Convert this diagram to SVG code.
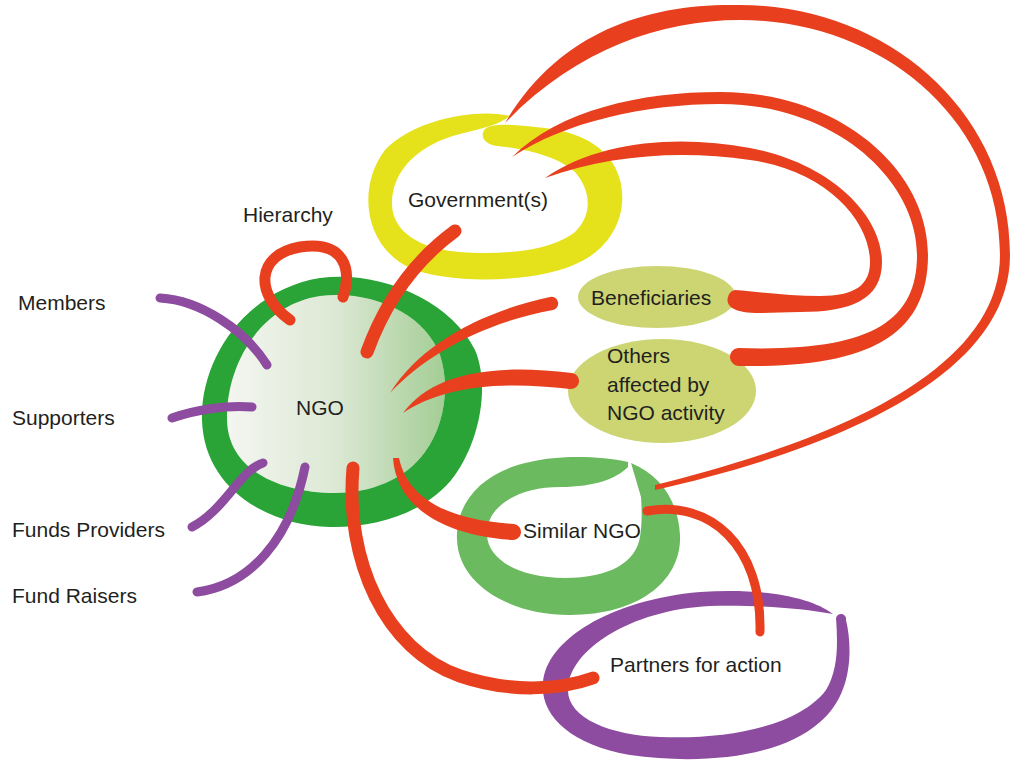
<svg xmlns="http://www.w3.org/2000/svg" width="1017" height="765" viewBox="0 0 1017 765">
<defs>
<linearGradient id="ngoFill" x1="227" y1="0" x2="445" y2="0" gradientUnits="userSpaceOnUse">
<stop offset="0" stop-color="#f4f6f0"/>
<stop offset="0.5" stop-color="#dce8d4"/>
<stop offset="1" stop-color="#a4cd95"/>
</linearGradient>
<style>
.lbl{font-family:"Liberation Sans",Arial,sans-serif;font-size:21px;fill:#231f20}
.red{fill:#e8401f}
.reds{fill:none;stroke:#e8401f;stroke-linecap:round}
.pur{fill:none;stroke:#8d4c9f;stroke-width:9;stroke-linecap:round}
</style>
</defs>
<rect width="1017" height="765" fill="#ffffff"/>

<g id="ngo">
<path d="M227,420 C226,365 260,305 320,296 C375,290 425,315 440,355 C450,385 445,425 425,452 C405,480 370,493 335,493 C280,493 228,470 227,420 Z" fill="url(#ngoFill)"/>
<path fill-rule="evenodd" fill="#2aa337" d="M202,420 C200,360 245,290 320,278 C380,270 450,300 475,350 C490,385 480,440 455,475 C430,510 380,528 330,527 C270,526 204,490 202,420 Z M227,420 C226,365 260,305 320,296 C375,290 425,315 440,355 C450,385 445,425 425,452 C405,480 370,493 335,493 C280,493 228,470 227,420 Z"/>
<text class="lbl" x="296" y="415">NGO</text>
</g>

<g id="government">
<path fill="#e5e21c" d="M510,116 C480,108 415,118 385,150 C358,185 362,245 410,268 C450,285 540,283 580,262 C615,245 628,210 620,180 C612,150 585,133 545,128 C520,125 492,122 485,129 C479,136 485,145 497,146 C530,149 560,158 575,172 C592,192 592,215 575,232 C550,252 500,255 460,252 C420,249 393,232 392,205 C391,170 420,144 460,134 C485,128 500,124 510,116 Z"/>
<text class="lbl" x="408" y="207">Government(s)</text>
</g>

<g id="beneficiaries">
<ellipse cx="657" cy="297" rx="79" ry="31" fill="#ccd572"/>
<text class="lbl" x="591" y="305">Beneficiaries</text>
</g>

<g id="others">
<ellipse cx="662" cy="391" rx="94" ry="52" fill="#ccd572"/>
<text class="lbl" x="607" y="363">Others</text>
<text class="lbl" x="607" y="392">affected by</text>
<text class="lbl" x="607" y="420">NGO activity</text>
</g>

<g id="similar-ngo">
<path fill="#6cba5f" d="M628,462 C600,456 560,455 530,462 C480,472 455,505 457,540 C459,585 510,615 570,615 C640,615 682,580 680,535 C678,500 660,475 631,463 L641,497 C642,512 642,525 640,537 C636,562 610,578 565,578 C520,578 488,560 487,535 C486,505 520,487 560,487 C596,487 617,478 628,467 Z"/>
<text class="lbl" x="523" y="538">Similar NGO</text>
</g>

<g id="partners">
<path fill="#8d4c9f" d="M836,618 A5,5 0 0 1 846,620 C853,650 852,695 820,722 C780,758 700,765 630,755 C570,745 540,715 543,683 C546,640 610,600 700,592 C760,588 810,596 833,614 C800,608 760,605 710,606 C630,610 570,650 568,688 C566,718 610,735 660,737 C730,740 800,725 826,690 C838,670 838,645 836,618 Z"/>
<text class="lbl" x="610" y="672">Partners for action</text>
</g>

<g id="hierarchy"><text class="lbl" x="243" y="222">Hierarchy</text></g>
<g id="members"><text class="lbl" x="18" y="310">Members</text></g>
<g id="supporters"><text class="lbl" x="12" y="425">Supporters</text></g>
<g id="funds-providers"><text class="lbl" x="12" y="537">Funds Providers</text></g>
<g id="fund-raisers"><text class="lbl" x="12" y="603">Fund Raisers</text></g>

<g id="connectors">
<path class="pur" d="M160,298 C200,300 245,330 267,365"/>
<path class="pur" d="M172,418 C195,410 225,405 252,407"/>
<path class="pur" d="M192,527 C225,510 240,470 263,463"/>
<path class="pur" d="M197,592 C250,585 290,540 305,467"/>
<path class="reds" stroke-width="11" d="M290,320 C255,295 255,255 300,247 C345,240 352,270 343,297"/>
<path class="reds" stroke-width="13" d="M367,352 Q395,275 455,231"/>
<path class="red" d="M390,393 C420,345 480,312 550,297 A6.5,6.5 0 0 1 553,310 C485,322 425,355 390,393 Z"/>
<path class="red" d="M403,413 C432,374 490,363 572,373 A8,8 0 0 1 570,389 C495,380 440,388 403,413 Z"/>
<path class="red" d="M393,458 C396,505 440,535 512,540 A8,8 0 0 0 514,524 C450,520 408,500 399,458 Z"/>
<path class="reds" stroke-width="13" d="M353,468 C345,560 385,650 460,676 C510,693 560,690 593,678"/>
<path class="reds" stroke-width="9" d="M647,511 C710,500 762,545 760,632"/>
<path class="red" d="M505,123 C560,30 650,3 740,5 C885,5 1010,110 1010,255 C1010,385 810,455 655,490 L655,485 C805,448 1000,380 1000,255 C1000,118 880,20 740,20 C660,20 575,50 505,123 Z"/>
<path class="red" d="M512,157 C560,110 640,92 720,92 C840,92 928,170 928,255 C928,335 870,368 740,366 A9,9 0 0 1 738,348 C865,352 917,325 917,255 C917,180 835,104 720,104 C645,104 565,122 512,157 Z"/>
<path class="red" d="M545,178 C600,140 680,135 750,148 C830,163 882,215 882,262 C882,300 850,312 800,312 C770,312 745,316 732,308 A10,10 0 0 1 735,290 C760,292 790,296 820,296 C855,296 870,285 870,262 C870,220 825,170 750,160 C680,150 610,155 545,178 Z"/>
</g>
</svg>
